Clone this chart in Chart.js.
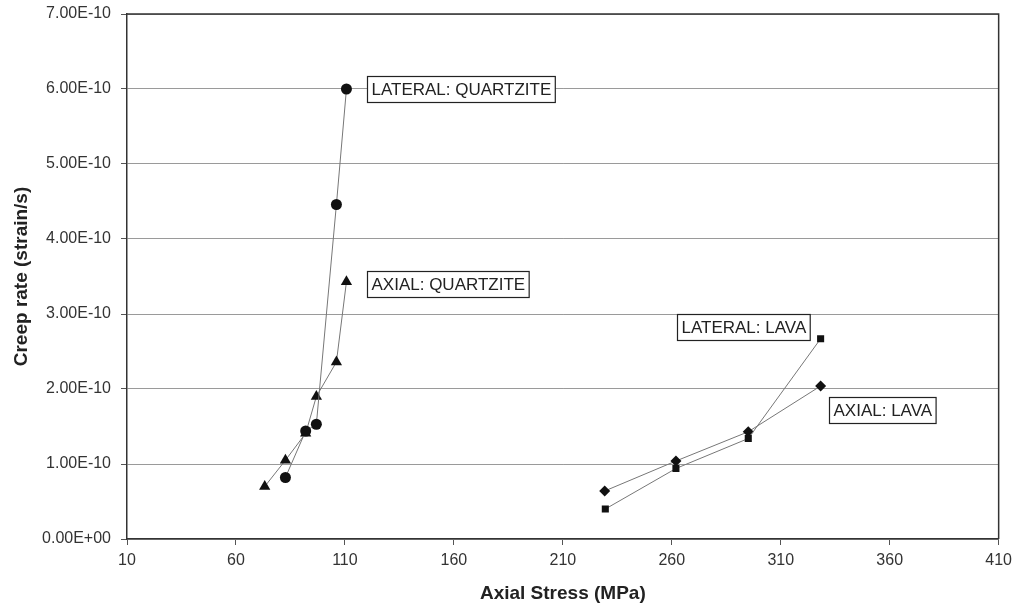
<!DOCTYPE html>
<html>
<head>
<meta charset="utf-8">
<script src="https://cdn.jsdelivr.net/npm/chart.js@4/dist/chart.umd.min.js"></script>
<style>
  html, body { margin: 0; padding: 0; background: #fff; }
  #wrap { width: 1018px; height: 609px; }
</style>
</head>
<body>
<div id="wrap"><canvas id="creepChart"></canvas></div>
<script>
// axial stress (MPa) and creep rate (strain/s)
const quartziteLateralX = [82.7, 92, 96.9, 106.1, 110.7];
const quartziteLateralY = [0.82e-10, 1.44e-10, 1.53e-10, 4.46e-10, 6.0e-10];
const quartziteAxialX = [73.2, 82.7, 92, 96.9, 106.1, 110.7];
const quartziteAxialY = [0.70e-10, 1.05e-10, 1.41e-10, 1.90e-10, 2.36e-10, 3.43e-10];
const lavaLateralX = [229.5, 261.9, 295.1, 328.3];
const lavaLateralY = [0.40e-10, 0.94e-10, 1.34e-10, 2.67e-10];
const lavaAxialX = [229.2, 261.9, 295.1, 328.3];
const lavaAxialY = [0.64e-10, 1.04e-10, 1.43e-10, 2.04e-10];

const xTicks = [10, 60, 110, 160, 210, 260, 310, 360, 410];
const yTicks = [0, 1e-10, 2e-10, 3e-10, 4e-10, 5e-10, 6e-10, 7e-10];

// boxed labels: left edge (MPa), vertical centre (strain/s)
const labelText = ['LATERAL: QUARTZITE', 'AXIAL: QUARTZITE', 'LATERAL: LAVA', 'AXIAL: LAVA'];
const labelX = [120, 120, 262.5, 332];
const labelY = [6.0e-10, 3.4e-10, 2.83e-10, 1.72e-10];

const sans = '"Liberation Sans", Arial, sans-serif';

function toPoints(xs, ys) {
    return xs.map((x, i) => ({ x: x, y: ys[i] }));
}

function formatSci(v) {
    const s = Number(v).toExponential(2).toUpperCase();
    return s.replace(/E([+-])(\d)$/, 'E$10$2');
}

const boxLabels = {
    id: 'boxLabels',
    beforeDatasetsDraw(chart) {
        const ctx = chart.ctx;
        const a = chart.chartArea;
        ctx.save();
        ctx.strokeStyle = '#333';
        ctx.lineWidth = 1.5;
        ctx.beginPath();
        ctx.moveTo(a.left, a.top);
        ctx.lineTo(a.right, a.top);
        ctx.lineTo(a.right, a.bottom);
        ctx.stroke();
        ctx.restore();
    },
    afterDatasetsDraw(chart) {
        const ctx = chart.ctx;
        const xs = chart.scales.x;
        const ys = chart.scales.y;
        ctx.save();
        ctx.font = '17px ' + sans;
        ctx.textBaseline = 'middle';
        labelText.forEach((t, i) => {
            const px = Math.round(xs.getPixelForValue(labelX[i])) + 0.5;
            const py = Math.round(ys.getPixelForValue(labelY[i])) + 0.5;
            const w = ctx.measureText(t).width + 8;
            const h = 26;
            ctx.fillStyle = '#fff';
            ctx.fillRect(px, py - h / 2, w, h);
            ctx.strokeStyle = '#222';
            ctx.lineWidth = 1.2;
            ctx.strokeRect(px, py - h / 2, w, h);
            ctx.fillStyle = '#222';
            ctx.fillText(t, px + 4, py + 1);
        });
        ctx.restore();
    }
};

const lineColor = '#777';

new Chart(document.getElementById('creepChart'), {
    type: 'scatter',
    data: {
        datasets: [
            {
                label: 'LATERAL: QUARTZITE',
                data: toPoints(quartziteLateralX, quartziteLateralY),
                pointStyle: 'circle',
                pointRadius: 5.5
            },
            {
                label: 'AXIAL: QUARTZITE',
                data: toPoints(quartziteAxialX, quartziteAxialY),
                pointStyle: 'triangle',
                pointRadius: 6.5
            },
            {
                label: 'LATERAL: LAVA',
                data: toPoints(lavaLateralX, lavaLateralY),
                pointStyle: 'rect',
                pointRadius: 5
            },
            {
                label: 'AXIAL: LAVA',
                data: toPoints(lavaAxialX, lavaAxialY),
                pointStyle: 'rectRot',
                pointRadius: 5.5
            }
        ].map(ds => Object.assign(ds, {
            showLine: true,
            borderColor: lineColor,
            borderWidth: 1,
            pointBackgroundColor: '#111',
            pointBorderColor: '#111',
            pointBorderWidth: 0
        }))
    },
    options: {
        responsive: true,
        maintainAspectRatio: false,
        animation: false,
        layout: { padding: { top: 14, right: 18, bottom: 0, left: 10 } },
        plugins: {
            legend: { display: false },
            tooltip: { enabled: false }
        },
        scales: {
            x: {
                type: 'linear',
                min: 10,
                max: 410,
                afterBuildTicks: axis => { axis.ticks = xTicks.map(v => ({ value: v })); },
                afterFit: axis => { axis.height = 70; },
                grid: {
                    drawOnChartArea: false,
                    drawTicks: true,
                    tickLength: 6,
                    color: '#555'
                },
                border: { display: true, color: '#333', width: 1.5 },
                ticks: {
                    color: '#333',
                    font: { family: sans, size: 16 },
                    padding: 6,
                    maxRotation: 0,
                    autoSkip: false
                },
                title: {
                    display: true,
                    text: 'Axial Stress (MPa)',
                    color: '#222',
                    font: { family: sans, size: 19, weight: 'bold' },
                    padding: { top: 4, bottom: 4 }
                }
            },
            y: {
                type: 'linear',
                min: 0,
                max: 7e-10,
                afterBuildTicks: axis => { axis.ticks = yTicks.map(v => ({ value: v })); },
                afterFit: axis => {
                    axis.width = 117;
                    axis.paddingTop = 0;
                    axis.paddingBottom = 0;
                },
                grid: {
                    color: '#9a9a9a',
                    lineWidth: 1,
                    drawTicks: true,
                    tickLength: 6,
                    tickColor: '#555'
                },
                border: { display: true, color: '#333', width: 1.5 },
                ticks: {
                    color: '#333',
                    font: { family: sans, size: 16 },
                    padding: 10,
                    autoSkip: false,
                    callback: v => formatSci(v)
                },
                title: {
                    display: true,
                    text: 'Creep rate (strain/s)',
                    color: '#222',
                    font: { family: sans, size: 19, weight: 'bold' },
                    padding: { top: 0, bottom: 6 }
                }
            }
        }
    },
    plugins: [boxLabels]
});
</script>
</body>
</html>
